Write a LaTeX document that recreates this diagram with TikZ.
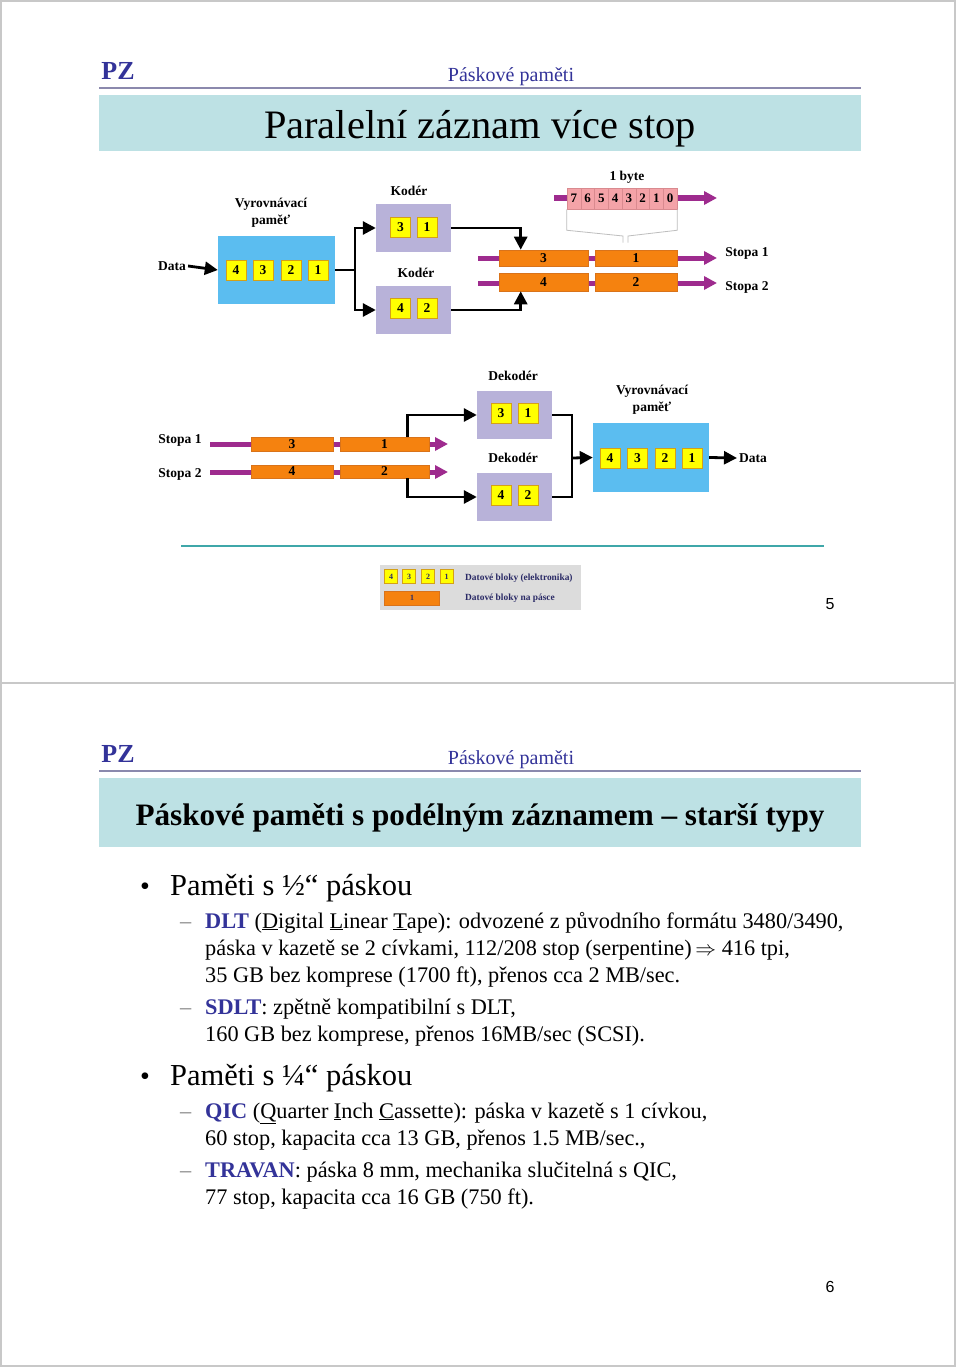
\documentclass[tikz,border=0pt]{standalone}
\usepackage{fontspec}
\setmainfont{Liberation Serif}
\newfontfamily\pagenumfont{Liberation Sans}
\usetikzlibrary{arrows.meta,calc}

\newcommand{\kw}[1]{\textcolor{hdrblue}{\bfseries #1}}

\begin{document}
\begin{tikzpicture}[x=1pt,y=-1pt,
		lbl/.style={font=\fontsize{13.5}{17}\selectfont\bfseries, align=center, inner sep=2pt},
		blk/.style={draw=yblkline, fill=yblk, line width=0.6pt, minimum width=20pt, minimum height=20pt, inner sep=0pt, font=\fontsize{13.5}{14}\selectfont\bfseries},
		tapeblk/.style={draw=oblkline, fill=oblk, line width=0.6pt, inner sep=0pt, font=\fontsize{13.5}{14}\selectfont\bfseries},
		bitcell/.style={draw=bitline, fill=bitfill, line width=0.5pt, minimum width=13.75pt, minimum height=21pt, inner sep=0pt, font=\fontsize{13}{14}\selectfont\bfseries},
		bufbox/.style={fill=bufblue, inner sep=0pt},
		codbox/.style={fill=codlav, minimum width=75pt, minimum height=48pt, inner sep=0pt},
		wire/.style={line width=2.8pt},
		conn/.style={wire, -{Triangle[length=13pt,width=13pt]}},
		track/.style={draw=trackcol, line width=5pt, -{Triangle[length=13pt,width=13pt]}},
		bytebrace/.style={draw=bracegray, line width=0.8pt},
		pz/.style={font=\fontsize{26}{30}\selectfont\bfseries, text=hdrblue},
		hdr/.style={font=\fontsize{20}{24}\selectfont, text=hdrblue},
		lvlone/.style={anchor=base west, inner sep=0pt, font=\fontsize{30.5}{36}\selectfont},
		lvltwo/.style={anchor=base west, inner sep=0pt, font=\fontsize{22.3}{27}\selectfont},
		legtext/.style={anchor=west, inner sep=0pt, text=legtextcol, font=\fontsize{9.4}{11}\selectfont\bfseries},
		miniblk/.style={draw=yblkline, fill=yblk, line width=0.4pt, minimum width=13pt, minimum height=14pt, inner sep=0pt, text=legtextcol, font=\fontsize{8}{9}\selectfont\bfseries}
	]
	% Colors
	\definecolor{bufblue}{HTML}{5BBDF0}
	\definecolor{codlav}{HTML}{B8B2D9}
	\definecolor{yblk}{HTML}{FFFF00}
	\definecolor{yblkline}{HTML}{D4A017}
	\definecolor{oblk}{HTML}{F5820F}
	\definecolor{oblkline}{HTML}{D9731A}
	\definecolor{trackcol}{HTML}{9E2B8E}
	\definecolor{bitfill}{HTML}{F4A3A8}
	\definecolor{bitline}{HTML}{D98A8F}
	\definecolor{bracegray}{HTML}{BEBEBE}
	\definecolor{titlecyan}{HTML}{BDE1E4}
	\definecolor{hdrblue}{HTML}{333399}
	\definecolor{hdrline}{HTML}{8B89AD}
	\definecolor{septeal}{HTML}{3FA7A9}
	\definecolor{legendgray}{HTML}{DCDCDC}
	\definecolor{legtextcol}{HTML}{2A2A66}
	\definecolor{slideframe}{HTML}{C8C8C8}
	\definecolor{dashgray}{HTML}{808080}

	\useasboundingbox (0,0) rectangle (960,1367);
	\fill[white] (0,0) rectangle (960,1367);

	% the two slides
	\draw[slideframe, line width=1.2pt] (1,1) rectangle (955,683);
	\draw[slideframe, line width=1.2pt] (1,683) rectangle (955,1366);

	% headers
	\foreach \oy in {0,683}
	{
	  \node[pz] (pz\oy) at (118,{71+\oy}) {PZ};
	  \node[hdr] (hdr\oy) at (511,{76.5+\oy}) {Páskové paměti};
	  \draw[hdrline, line width=2pt] (99,{88+\oy}) -- (861,{88+\oy});
	}

	% slide 5
	\fill[titlecyan] (99,95) rectangle (861,151);
	\node[font=\fontsize{40.4}{44}\selectfont] (title5) at (480,129) {Paralelní záznam více stop};

	% -- recording side
	\node[lbl] (data1) at (172,266) {Data};
	\node[bufbox, minimum width=117pt, minimum height=68pt] (buf1) at (276.5,270) {};
	\node[lbl] (buf1lbl) at (271,212.5) {Vyrovnávací\\paměť};
	\foreach \i/\x in {4/236,3/263,2/291,1/318}
	  \node[blk] (bA\i) at (\x,270) {\i};

	\node[codbox] (kod1) at (413.5,228) {};
	\node[codbox] (kod2) at (413.5,310) {};
	\node[lbl] (kod1lbl) at (409,191) {Kodér};
	\node[lbl] (kod2lbl) at (416,273) {Kodér};
	\node[blk] (kA3) at (400.5,227) {3};
	\node[blk] (kA1) at (427,227) {1};
	\node[blk] (kA4) at (400.5,308) {4};
	\node[blk] (kA2) at (427,308) {2};

	\draw[conn] (data1.east) -- (buf1.west);
	\coordinate (fork1) at (355,270);
	\draw[wire] (buf1.east) -- (fork1);
	\draw[conn] (fork1) |- (kod1.west);
	\draw[conn] (fork1) |- (kod2.west);

	% tracks + byte register
	\coordinate (byteIn) at (554,198);
	\coordinate (byteOut) at (717,198);
	\draw[track] (byteIn) -- (byteOut);
	\foreach \b [count=\i] in {7,6,5,4,3,2,1,0}
	  \node[bitcell] (bit\b) at ({567+13.75*(\i-0.5)},198.5) {\b};
	\node[lbl] (bytelbl) at (627,177) {1 byte};
	\draw[bytebrace] (bit7.south west) -- ++(0,21) -- (623,236) -- (623,242.5);
	\draw[bytebrace] (bit0.south east) -- ++(0,21) -- (628,236) -- (628,242.5);

	\coordinate (w1in) at (478,258);
	\coordinate (w1out) at (717,258);
	\coordinate (w2in) at (478,283);
	\coordinate (w2out) at (717,283);
	\draw[track] (w1in) -- (w1out);
	\draw[track] (w2in) -- (w2out);
	\node[tapeblk, minimum width=89pt, minimum height=16pt] (tA1) at (543.5,258) {3};
	\node[tapeblk, minimum width=82pt, minimum height=16pt] (tB1) at (636,258) {1};
	\node[tapeblk, minimum width=89pt, minimum height=18pt] (tA2) at (543.5,282) {4};
	\node[tapeblk, minimum width=82pt, minimum height=18pt] (tB2) at (636,282) {2};
	\node[lbl] (stopa1) at (747,253) {Stopa 1};
	\node[lbl] (stopa2) at (747,287) {Stopa 2};

	\draw[conn] (kod1.east) -| ($(tA1.north west)+(22,0)$);
	\draw[conn] (kod2.east) -| ($(tA2.south west)+(22,0)$);

	% -- reading side
	\node[lbl] (rstopa1) at (180,440) {Stopa 1};
	\node[lbl] (rstopa2) at (180,474) {Stopa 2};
	\coordinate (r1in) at (210,444);
	\coordinate (r1out) at (448,444);
	\coordinate (r2in) at (210,472);
	\coordinate (r2out) at (448,472);
	\draw[track] (r1in) -- (r1out);
	\draw[track] (r2in) -- (r2out);
	\node[tapeblk, minimum width=82pt, minimum height=14pt] (rA1) at (292,444) {3};
	\node[tapeblk, minimum width=89pt, minimum height=14pt] (rB1) at (384.5,444) {1};
	\node[tapeblk, minimum width=82pt, minimum height=13pt] (rA2) at (292,471.5) {4};
	\node[tapeblk, minimum width=89pt, minimum height=13pt] (rB2) at (384.5,471.5) {2};

	\node[codbox] (dek1) at (514.5,415) {};
	\node[codbox] (dek2) at (514.5,497) {};
	\node[lbl] (dek1lbl) at (513,376) {Dekodér};
	\node[lbl] (dek2lbl) at (513,458) {Dekodér};
	\node[blk] (dA3) at (501,413) {3};
	\node[blk] (dA1) at (528,413) {1};
	\node[blk] (dA4) at (501,495.5) {4};
	\node[blk] (dA2) at (528,495.5) {2};

	\draw[conn] ($(rB1.north west)+(68,0)$) |- (dek1.west);
	\draw[conn] ($(rB2.south west)+(68,0)$) |- (dek2.west);

	\node[bufbox, minimum width=116pt, minimum height=69pt] (buf2) at (651,457.5) {};
	\node[lbl] (buf2lbl) at (652,400) {Vyrovnávací\\paměť};
	\foreach \i/\x in {4/610,3/637.5,2/665,1/692}
	  \node[blk] (bB\i) at (\x,458) {\i};
	\node[lbl] (data2) at (753,458) {Data};

	\coordinate (join2) at (572,458);
	\draw[wire] (dek1.east) -| (join2);
	\draw[wire] (dek2.east) -| (join2);
	\draw[conn] (join2) -- (buf2.west);
	\draw[conn] (buf2.east) -- (data2.west);

	% legend
	\draw[septeal, line width=1.5pt] (181,546) -- (824,546);
	\node[fill=legendgray, minimum width=201pt, minimum height=45pt, inner sep=0pt] (legend) at (480.5,587.5) {};
	\foreach \i/\x in {4/391,3/409,2/428,1/446.5}
	  \node[miniblk] (m\i) at (\x,576.5) {\i};
	\node[tapeblk, minimum width=55pt, minimum height=14pt, line width=0.4pt, text=legtextcol,
	      font=\fontsize{8}{9}\selectfont\bfseries] (mtape) at (412,598) {1};
	\node[legtext] (leg1) at (465,578) {Datové bloky (elektronika)};
	\node[legtext] (leg2) at (465,598) {Datové bloky na pásce};
	\node[font=\pagenumfont\fontsize{16}{18}\selectfont] (pnum5) at (830,604) {5};

	% slide 6
	\fill[titlecyan] (99,778) rectangle (861,847);
	\node[font=\fontsize{31.2}{36}\selectfont\bfseries] (title6) at (480,817.5) {Páskové paměti s podélným záznamem -- starší typy};

	\node[anchor=base, inner sep=0pt, font=\fontsize{28}{32}\selectfont] (dotA) at (145,895) {•};
	\node[lvlone] (halfin) at (170,895) {Paměti s ½“ páskou};
	\node[lvltwo, text=dashgray] (dashA) at (180,928) {–};
	\node[lvltwo] (dltA) at (205,928) {\kw{DLT} (\underline{D}igital \underline{L}inear \underline{T}ape): odvozené z původního formátu 3480/3490,};
	\node[lvltwo] (dltB) at (205,955) {páska v kazetě se 2 cívkami, 112/208 stop (serpentine)\,$\Rightarrow$ 416 tpi,};
	\node[lvltwo] (dltC) at (205,982) {35 GB bez komprese (1700 ft), přenos cca 2 MB/sec.};
	\node[lvltwo, text=dashgray] (dashB) at (180,1014) {–};
	\node[lvltwo] (sdltA) at (205,1014) {\kw{SDLT}: zpětně kompatibilní s DLT,};
	\node[lvltwo] (sdltB) at (205,1041) {160 GB bez komprese, přenos 16MB/sec (SCSI).};

	\node[anchor=base, inner sep=0pt, font=\fontsize{28}{32}\selectfont] (dotB) at (145,1085) {•};
	\node[lvlone] (quarterin) at (170,1085) {Paměti s ¼“ páskou};
	\node[lvltwo, text=dashgray] (dashC) at (180,1118) {–};
	\node[lvltwo] (qicA) at (205,1118) {\kw{QIC} (\underline{Q}uarter \underline{I}nch \underline{C}assette): páska v kazetě s 1 cívkou,};
	\node[lvltwo] (qicB) at (205,1145) {60 stop, kapacita cca 13 GB, přenos 1.5 MB/sec.,};
	\node[lvltwo, text=dashgray] (dashD) at (180,1177) {–};
	\node[lvltwo] (travA) at (205,1177) {\kw{TRAVAN}: páska 8 mm, mechanika slučitelná s QIC,};
	\node[lvltwo] (travB) at (205,1204) {77 stop, kapacita cca 16 GB (750 ft).};

	\node[font=\pagenumfont\fontsize{16}{18}\selectfont] (pnum6) at (830,1287) {6};
\end{tikzpicture}
\end{document}
